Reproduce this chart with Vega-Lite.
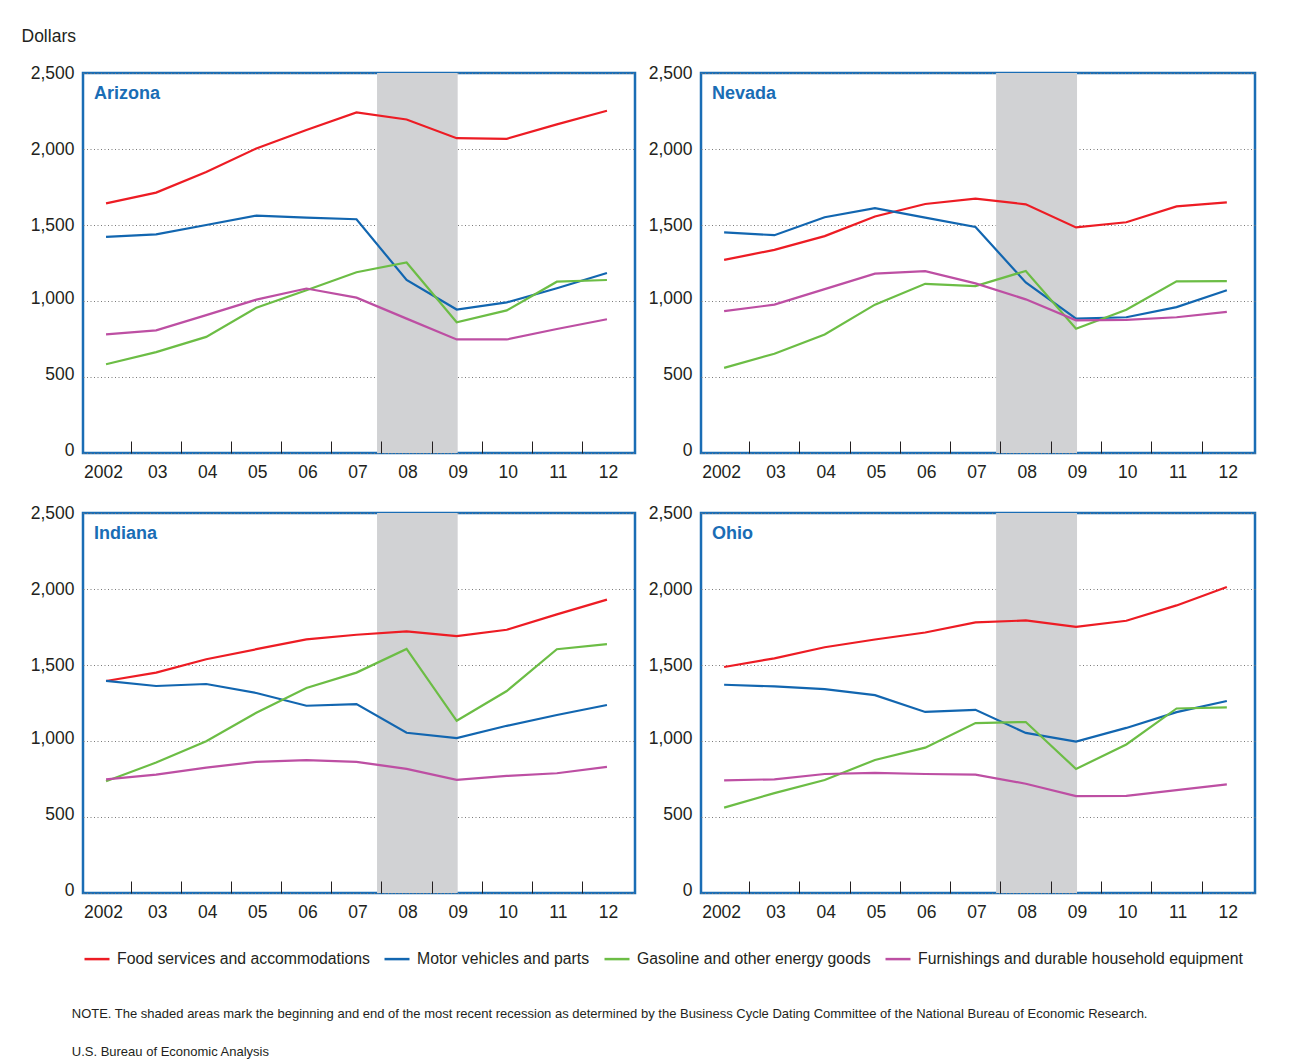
{
  "$schema": "https://vega.github.io/schema/vega-lite/v6.json",
  "padding": {"left": 19, "top": 25, "right": 5, "bottom": 5},
  "background": "white",
  "columns": 2,
  "bounds": "flush",
  "spacing": {"row": 60, "column": 66},
  "title": {
    "text": ["NOTE. The shaded areas mark the beginning and end of the most recent recession as determined by the Business Cycle Dating Committee of the National Bureau of Economic Research.", "U.S. Bureau of Economic Analysis"],
    "orient": "bottom", "anchor": "start", "frame": "bounds", "offset": 41, "dx": 52,
    "fontSize": 13, "fontWeight": "normal", "font": "Liberation Sans", "color": "#231f20", "lineHeight": 38, "baseline": "top"
  },
  "datasets": {
    "recession": [{"start": 2007.41, "end": 2009.02}],
    "spend": [
      {"state":"Arizona","series":"Food services and accommodations","year":2002,"value":1642},
      {"state":"Arizona","series":"Food services and accommodations","year":2003,"value":1713},
      {"state":"Arizona","series":"Food services and accommodations","year":2004,"value":1849},
      {"state":"Arizona","series":"Food services and accommodations","year":2005,"value":2004},
      {"state":"Arizona","series":"Food services and accommodations","year":2006,"value":2125},
      {"state":"Arizona","series":"Food services and accommodations","year":2007,"value":2241},
      {"state":"Arizona","series":"Food services and accommodations","year":2008,"value":2194},
      {"state":"Arizona","series":"Food services and accommodations","year":2009,"value":2071},
      {"state":"Arizona","series":"Food services and accommodations","year":2010,"value":2067},
      {"state":"Arizona","series":"Food services and accommodations","year":2011,"value":2162},
      {"state":"Arizona","series":"Food services and accommodations","year":2012,"value":2252},
      {"state":"Arizona","series":"Motor vehicles and parts","year":2002,"value":1422},
      {"state":"Arizona","series":"Motor vehicles and parts","year":2003,"value":1438},
      {"state":"Arizona","series":"Motor vehicles and parts","year":2004,"value":1500},
      {"state":"Arizona","series":"Motor vehicles and parts","year":2005,"value":1562},
      {"state":"Arizona","series":"Motor vehicles and parts","year":2006,"value":1549},
      {"state":"Arizona","series":"Motor vehicles and parts","year":2007,"value":1538},
      {"state":"Arizona","series":"Motor vehicles and parts","year":2008,"value":1138},
      {"state":"Arizona","series":"Motor vehicles and parts","year":2009,"value":944},
      {"state":"Arizona","series":"Motor vehicles and parts","year":2010,"value":991},
      {"state":"Arizona","series":"Motor vehicles and parts","year":2011,"value":1084},
      {"state":"Arizona","series":"Motor vehicles and parts","year":2012,"value":1184},
      {"state":"Arizona","series":"Gasoline and other energy goods","year":2002,"value":584},
      {"state":"Arizona","series":"Gasoline and other energy goods","year":2003,"value":664},
      {"state":"Arizona","series":"Gasoline and other energy goods","year":2004,"value":764},
      {"state":"Arizona","series":"Gasoline and other energy goods","year":2005,"value":956},
      {"state":"Arizona","series":"Gasoline and other energy goods","year":2006,"value":1071},
      {"state":"Arizona","series":"Gasoline and other energy goods","year":2007,"value":1189},
      {"state":"Arizona","series":"Gasoline and other energy goods","year":2008,"value":1253},
      {"state":"Arizona","series":"Gasoline and other energy goods","year":2009,"value":860},
      {"state":"Arizona","series":"Gasoline and other energy goods","year":2010,"value":938},
      {"state":"Arizona","series":"Gasoline and other energy goods","year":2011,"value":1127},
      {"state":"Arizona","series":"Gasoline and other energy goods","year":2012,"value":1138},
      {"state":"Arizona","series":"Furnishings and durable household equipment","year":2002,"value":780},
      {"state":"Arizona","series":"Furnishings and durable household equipment","year":2003,"value":807},
      {"state":"Arizona","series":"Furnishings and durable household equipment","year":2004,"value":907},
      {"state":"Arizona","series":"Furnishings and durable household equipment","year":2005,"value":1009},
      {"state":"Arizona","series":"Furnishings and durable household equipment","year":2006,"value":1082},
      {"state":"Arizona","series":"Furnishings and durable household equipment","year":2007,"value":1022},
      {"state":"Arizona","series":"Furnishings and durable household equipment","year":2008,"value":884},
      {"state":"Arizona","series":"Furnishings and durable household equipment","year":2009,"value":747},
      {"state":"Arizona","series":"Furnishings and durable household equipment","year":2010,"value":747},
      {"state":"Arizona","series":"Furnishings and durable household equipment","year":2011,"value":816},
      {"state":"Arizona","series":"Furnishings and durable household equipment","year":2012,"value":880},
      {"state":"Nevada","series":"Food services and accommodations","year":2002,"value":1271},
      {"state":"Nevada","series":"Food services and accommodations","year":2003,"value":1336},
      {"state":"Nevada","series":"Food services and accommodations","year":2004,"value":1427},
      {"state":"Nevada","series":"Food services and accommodations","year":2005,"value":1556},
      {"state":"Nevada","series":"Food services and accommodations","year":2006,"value":1638},
      {"state":"Nevada","series":"Food services and accommodations","year":2007,"value":1673},
      {"state":"Nevada","series":"Food services and accommodations","year":2008,"value":1636},
      {"state":"Nevada","series":"Food services and accommodations","year":2009,"value":1484},
      {"state":"Nevada","series":"Food services and accommodations","year":2010,"value":1518},
      {"state":"Nevada","series":"Food services and accommodations","year":2011,"value":1622},
      {"state":"Nevada","series":"Food services and accommodations","year":2012,"value":1649},
      {"state":"Nevada","series":"Motor vehicles and parts","year":2002,"value":1451},
      {"state":"Nevada","series":"Motor vehicles and parts","year":2003,"value":1433},
      {"state":"Nevada","series":"Motor vehicles and parts","year":2004,"value":1551},
      {"state":"Nevada","series":"Motor vehicles and parts","year":2005,"value":1611},
      {"state":"Nevada","series":"Motor vehicles and parts","year":2006,"value":1549},
      {"state":"Nevada","series":"Motor vehicles and parts","year":2007,"value":1487},
      {"state":"Nevada","series":"Motor vehicles and parts","year":2008,"value":1122},
      {"state":"Nevada","series":"Motor vehicles and parts","year":2009,"value":884},
      {"state":"Nevada","series":"Motor vehicles and parts","year":2010,"value":893},
      {"state":"Nevada","series":"Motor vehicles and parts","year":2011,"value":960},
      {"state":"Nevada","series":"Motor vehicles and parts","year":2012,"value":1071},
      {"state":"Nevada","series":"Gasoline and other energy goods","year":2002,"value":560},
      {"state":"Nevada","series":"Gasoline and other energy goods","year":2003,"value":653},
      {"state":"Nevada","series":"Gasoline and other energy goods","year":2004,"value":780},
      {"state":"Nevada","series":"Gasoline and other energy goods","year":2005,"value":976},
      {"state":"Nevada","series":"Gasoline and other energy goods","year":2006,"value":1113},
      {"state":"Nevada","series":"Gasoline and other energy goods","year":2007,"value":1098},
      {"state":"Nevada","series":"Gasoline and other energy goods","year":2008,"value":1198},
      {"state":"Nevada","series":"Gasoline and other energy goods","year":2009,"value":818},
      {"state":"Nevada","series":"Gasoline and other energy goods","year":2010,"value":942},
      {"state":"Nevada","series":"Gasoline and other energy goods","year":2011,"value":1129},
      {"state":"Nevada","series":"Gasoline and other energy goods","year":2012,"value":1131},
      {"state":"Nevada","series":"Furnishings and durable household equipment","year":2002,"value":933},
      {"state":"Nevada","series":"Furnishings and durable household equipment","year":2003,"value":976},
      {"state":"Nevada","series":"Furnishings and durable household equipment","year":2004,"value":1078},
      {"state":"Nevada","series":"Furnishings and durable household equipment","year":2005,"value":1180},
      {"state":"Nevada","series":"Furnishings and durable household equipment","year":2006,"value":1196},
      {"state":"Nevada","series":"Furnishings and durable household equipment","year":2007,"value":1116},
      {"state":"Nevada","series":"Furnishings and durable household equipment","year":2008,"value":1011},
      {"state":"Nevada","series":"Furnishings and durable household equipment","year":2009,"value":873},
      {"state":"Nevada","series":"Furnishings and durable household equipment","year":2010,"value":876},
      {"state":"Nevada","series":"Furnishings and durable household equipment","year":2011,"value":893},
      {"state":"Nevada","series":"Furnishings and durable household equipment","year":2012,"value":929},
      {"state":"Indiana","series":"Food services and accommodations","year":2002,"value":1395},
      {"state":"Indiana","series":"Food services and accommodations","year":2003,"value":1450},
      {"state":"Indiana","series":"Food services and accommodations","year":2004,"value":1538},
      {"state":"Indiana","series":"Food services and accommodations","year":2005,"value":1604},
      {"state":"Indiana","series":"Food services and accommodations","year":2006,"value":1668},
      {"state":"Indiana","series":"Food services and accommodations","year":2007,"value":1699},
      {"state":"Indiana","series":"Food services and accommodations","year":2008,"value":1721},
      {"state":"Indiana","series":"Food services and accommodations","year":2009,"value":1690},
      {"state":"Indiana","series":"Food services and accommodations","year":2010,"value":1732},
      {"state":"Indiana","series":"Food services and accommodations","year":2011,"value":1833},
      {"state":"Indiana","series":"Food services and accommodations","year":2012,"value":1930},
      {"state":"Indiana","series":"Motor vehicles and parts","year":2002,"value":1395},
      {"state":"Indiana","series":"Motor vehicles and parts","year":2003,"value":1362},
      {"state":"Indiana","series":"Motor vehicles and parts","year":2004,"value":1375},
      {"state":"Indiana","series":"Motor vehicles and parts","year":2005,"value":1316},
      {"state":"Indiana","series":"Motor vehicles and parts","year":2006,"value":1232},
      {"state":"Indiana","series":"Motor vehicles and parts","year":2007,"value":1243},
      {"state":"Indiana","series":"Motor vehicles and parts","year":2008,"value":1054},
      {"state":"Indiana","series":"Motor vehicles and parts","year":2009,"value":1019},
      {"state":"Indiana","series":"Motor vehicles and parts","year":2010,"value":1100},
      {"state":"Indiana","series":"Motor vehicles and parts","year":2011,"value":1171},
      {"state":"Indiana","series":"Motor vehicles and parts","year":2012,"value":1237},
      {"state":"Indiana","series":"Gasoline and other energy goods","year":2002,"value":735},
      {"state":"Indiana","series":"Gasoline and other energy goods","year":2003,"value":858},
      {"state":"Indiana","series":"Gasoline and other energy goods","year":2004,"value":999},
      {"state":"Indiana","series":"Gasoline and other energy goods","year":2005,"value":1186},
      {"state":"Indiana","series":"Gasoline and other energy goods","year":2006,"value":1349},
      {"state":"Indiana","series":"Gasoline and other energy goods","year":2007,"value":1450},
      {"state":"Indiana","series":"Gasoline and other energy goods","year":2008,"value":1606},
      {"state":"Indiana","series":"Gasoline and other energy goods","year":2009,"value":1133},
      {"state":"Indiana","series":"Gasoline and other energy goods","year":2010,"value":1329},
      {"state":"Indiana","series":"Gasoline and other energy goods","year":2011,"value":1604},
      {"state":"Indiana","series":"Gasoline and other energy goods","year":2012,"value":1637},
      {"state":"Indiana","series":"Furnishings and durable household equipment","year":2002,"value":748},
      {"state":"Indiana","series":"Furnishings and durable household equipment","year":2003,"value":779},
      {"state":"Indiana","series":"Furnishings and durable household equipment","year":2004,"value":825},
      {"state":"Indiana","series":"Furnishings and durable household equipment","year":2005,"value":863},
      {"state":"Indiana","series":"Furnishings and durable household equipment","year":2006,"value":874},
      {"state":"Indiana","series":"Furnishings and durable household equipment","year":2007,"value":863},
      {"state":"Indiana","series":"Furnishings and durable household equipment","year":2008,"value":817},
      {"state":"Indiana","series":"Furnishings and durable household equipment","year":2009,"value":744},
      {"state":"Indiana","series":"Furnishings and durable household equipment","year":2010,"value":770},
      {"state":"Indiana","series":"Furnishings and durable household equipment","year":2011,"value":788},
      {"state":"Indiana","series":"Furnishings and durable household equipment","year":2012,"value":830},
      {"state":"Ohio","series":"Food services and accommodations","year":2002,"value":1487},
      {"state":"Ohio","series":"Food services and accommodations","year":2003,"value":1544},
      {"state":"Ohio","series":"Food services and accommodations","year":2004,"value":1617},
      {"state":"Ohio","series":"Food services and accommodations","year":2005,"value":1668},
      {"state":"Ohio","series":"Food services and accommodations","year":2006,"value":1714},
      {"state":"Ohio","series":"Food services and accommodations","year":2007,"value":1780},
      {"state":"Ohio","series":"Food services and accommodations","year":2008,"value":1793},
      {"state":"Ohio","series":"Food services and accommodations","year":2009,"value":1751},
      {"state":"Ohio","series":"Food services and accommodations","year":2010,"value":1791},
      {"state":"Ohio","series":"Food services and accommodations","year":2011,"value":1892},
      {"state":"Ohio","series":"Food services and accommodations","year":2012,"value":2013},
      {"state":"Ohio","series":"Motor vehicles and parts","year":2002,"value":1370},
      {"state":"Ohio","series":"Motor vehicles and parts","year":2003,"value":1359},
      {"state":"Ohio","series":"Motor vehicles and parts","year":2004,"value":1341},
      {"state":"Ohio","series":"Motor vehicles and parts","year":2005,"value":1302},
      {"state":"Ohio","series":"Motor vehicles and parts","year":2006,"value":1191},
      {"state":"Ohio","series":"Motor vehicles and parts","year":2007,"value":1205},
      {"state":"Ohio","series":"Motor vehicles and parts","year":2008,"value":1053},
      {"state":"Ohio","series":"Motor vehicles and parts","year":2009,"value":996},
      {"state":"Ohio","series":"Motor vehicles and parts","year":2010,"value":1086},
      {"state":"Ohio","series":"Motor vehicles and parts","year":2011,"value":1190},
      {"state":"Ohio","series":"Motor vehicles and parts","year":2012,"value":1263},
      {"state":"Ohio","series":"Gasoline and other energy goods","year":2002,"value":562},
      {"state":"Ohio","series":"Gasoline and other energy goods","year":2003,"value":657},
      {"state":"Ohio","series":"Gasoline and other energy goods","year":2004,"value":743},
      {"state":"Ohio","series":"Gasoline and other energy goods","year":2005,"value":875},
      {"state":"Ohio","series":"Gasoline and other energy goods","year":2006,"value":956},
      {"state":"Ohio","series":"Gasoline and other energy goods","year":2007,"value":1118},
      {"state":"Ohio","series":"Gasoline and other energy goods","year":2008,"value":1125},
      {"state":"Ohio","series":"Gasoline and other energy goods","year":2009,"value":816},
      {"state":"Ohio","series":"Gasoline and other energy goods","year":2010,"value":977},
      {"state":"Ohio","series":"Gasoline and other energy goods","year":2011,"value":1214},
      {"state":"Ohio","series":"Gasoline and other energy goods","year":2012,"value":1221},
      {"state":"Ohio","series":"Furnishings and durable household equipment","year":2002,"value":741},
      {"state":"Ohio","series":"Furnishings and durable household equipment","year":2003,"value":748},
      {"state":"Ohio","series":"Furnishings and durable household equipment","year":2004,"value":783},
      {"state":"Ohio","series":"Furnishings and durable household equipment","year":2005,"value":790},
      {"state":"Ohio","series":"Furnishings and durable household equipment","year":2006,"value":783},
      {"state":"Ohio","series":"Furnishings and durable household equipment","year":2007,"value":779},
      {"state":"Ohio","series":"Furnishings and durable household equipment","year":2008,"value":719},
      {"state":"Ohio","series":"Furnishings and durable household equipment","year":2009,"value":637},
      {"state":"Ohio","series":"Furnishings and durable household equipment","year":2010,"value":639},
      {"state":"Ohio","series":"Furnishings and durable household equipment","year":2011,"value":677},
      {"state":"Ohio","series":"Furnishings and durable household equipment","year":2012,"value":715}
    ]
  },
  "concat": [
    {
      "width": 552, "height": 380,
      "title": {"text": "Arizona", "offset": -75.6},
      "layer": [
        {"data": {"name": "recession"}, "mark": {"type": "rect", "color": "#d1d2d4"},
         "encoding": {"x": {"field": "start", "type": "quantitative", "scale": {"domain": [2001.54, 2012.56], "nice": false, "zero": false},
           "axis": {"title": null, "values": [2002,2003,2004,2005,2006,2007,2008,2009,2010,2011,2012], "tickOffset": 25, "labelOffset": {"condition": {"test": "datum.value === 2002", "value": -28}, "value": -24}, "tickSize": -12, "tickWidth": 1, "tickColor": {"condition": {"test": "datum.value === 2012", "value": "transparent"}, "value": "#231f20"}, "labelPadding": 22, "labelExpr": "datum.value === 2002 ? '2002' : slice(toString(datum.value), 2)", "domain": false, "grid": false, "zindex": 1, "labelFlush": false, "labelOverlap": false}},
           "x2": {"field": "end"}}},
        {"data": {"name": "spend"}, "transform": [{"filter": "datum.state === 'Arizona'"}],
         "mark": {"type": "line", "strokeWidth": 2.2},
         "encoding": {"x": {"field": "year", "type": "quantitative", "scale": {"domain": [2001.54, 2012.56], "nice": false, "zero": false}},
           "y": {"field": "value", "type": "quantitative", "scale": {"domain": [0, 2500], "nice": false},
             "axis": {"title": "Dollars", "titleAngle": 0, "titleAlign": "left", "titleBaseline": "alphabetic", "titleX": -62, "titleY": -32, "titleFontSize": 17.5, "titleFontWeight": "normal", "titleColor": "#231f20", "titleFont": "Liberation Sans", "values": [0,500,1000,1500,2000,2500], "format": ",.0f", "ticks": false, "domain": false, "grid": true, "labelPadding": 9, "labelOffset": {"condition": {"test": "datum.value >= 1500", "value": 0}, "value": -3}, "labelFlush": false}},
           "color": {"field": "series", "type": "nominal", "scale": {"domain": ["Food services and accommodations", "Motor vehicles and parts", "Gasoline and other energy goods", "Furnishings and durable household equipment"], "range": ["#ed1c24", "#1266b0", "#6cbd45", "#bd4fa3"]}, "legend": {"title": null}}}}
      ]
    },
    {
      "width": 554, "height": 380,
      "title": {"text": "Nevada", "offset": -39.4},
      "layer": [
        {"data": {"name": "recession"}, "mark": {"type": "rect", "color": "#d1d2d4"},
         "encoding": {"x": {"field": "start", "type": "quantitative", "scale": {"domain": [2001.54, 2012.56], "nice": false, "zero": false},
           "axis": {"title": null, "values": [2002,2003,2004,2005,2006,2007,2008,2009,2010,2011,2012], "tickOffset": 25, "labelOffset": {"condition": {"test": "datum.value === 2002", "value": -28}, "value": -24}, "tickSize": -12, "tickWidth": 1, "tickColor": {"condition": {"test": "datum.value === 2012", "value": "transparent"}, "value": "#231f20"}, "labelPadding": 22, "labelExpr": "datum.value === 2002 ? '2002' : slice(toString(datum.value), 2)", "domain": false, "grid": false, "zindex": 1, "labelFlush": false, "labelOverlap": false}},
           "x2": {"field": "end"}}},
        {"data": {"name": "spend"}, "transform": [{"filter": "datum.state === 'Nevada'"}],
         "mark": {"type": "line", "strokeWidth": 2.2},
         "encoding": {"x": {"field": "year", "type": "quantitative", "scale": {"domain": [2001.54, 2012.56], "nice": false, "zero": false}},
           "y": {"field": "value", "type": "quantitative", "scale": {"domain": [0, 2500], "nice": false},
             "axis": {"title": null, "values": [0,500,1000,1500,2000,2500], "format": ",.0f", "ticks": false, "domain": false, "grid": true, "labelPadding": 9, "labelOffset": {"condition": {"test": "datum.value >= 1500", "value": 0}, "value": -3}, "labelFlush": false}},
           "color": {"field": "series", "type": "nominal", "scale": {"domain": ["Food services and accommodations", "Motor vehicles and parts", "Gasoline and other energy goods", "Furnishings and durable household equipment"], "range": ["#ed1c24", "#1266b0", "#6cbd45", "#bd4fa3"]}, "legend": {"title": null}}}}
      ]
    },
    {
      "width": 552, "height": 380,
      "title": {"text": "Indiana", "offset": -39.4},
      "layer": [
        {"data": {"name": "recession"}, "mark": {"type": "rect", "color": "#d1d2d4"},
         "encoding": {"x": {"field": "start", "type": "quantitative", "scale": {"domain": [2001.54, 2012.56], "nice": false, "zero": false},
           "axis": {"title": null, "values": [2002,2003,2004,2005,2006,2007,2008,2009,2010,2011,2012], "tickOffset": 25, "labelOffset": {"condition": {"test": "datum.value === 2002", "value": -28}, "value": -24}, "tickSize": -12, "tickWidth": 1, "tickColor": {"condition": {"test": "datum.value === 2012", "value": "transparent"}, "value": "#231f20"}, "labelPadding": 22, "labelExpr": "datum.value === 2002 ? '2002' : slice(toString(datum.value), 2)", "domain": false, "grid": false, "zindex": 1, "labelFlush": false, "labelOverlap": false}},
           "x2": {"field": "end"}}},
        {"data": {"name": "spend"}, "transform": [{"filter": "datum.state === 'Indiana'"}],
         "mark": {"type": "line", "strokeWidth": 2.2},
         "encoding": {"x": {"field": "year", "type": "quantitative", "scale": {"domain": [2001.54, 2012.56], "nice": false, "zero": false}},
           "y": {"field": "value", "type": "quantitative", "scale": {"domain": [0, 2500], "nice": false},
             "axis": {"title": null, "values": [0,500,1000,1500,2000,2500], "format": ",.0f", "ticks": false, "domain": false, "grid": true, "labelPadding": 9, "labelOffset": {"condition": {"test": "datum.value >= 1500", "value": 0}, "value": -3}, "labelFlush": false}},
           "color": {"field": "series", "type": "nominal", "scale": {"domain": ["Food services and accommodations", "Motor vehicles and parts", "Gasoline and other energy goods", "Furnishings and durable household equipment"], "range": ["#ed1c24", "#1266b0", "#6cbd45", "#bd4fa3"]}, "legend": {"title": null}}}}
      ]
    },
    {
      "width": 554, "height": 380,
      "title": {"text": "Ohio", "offset": -39.4},
      "layer": [
        {"data": {"name": "recession"}, "mark": {"type": "rect", "color": "#d1d2d4"},
         "encoding": {"x": {"field": "start", "type": "quantitative", "scale": {"domain": [2001.54, 2012.56], "nice": false, "zero": false},
           "axis": {"title": null, "values": [2002,2003,2004,2005,2006,2007,2008,2009,2010,2011,2012], "tickOffset": 25, "labelOffset": {"condition": {"test": "datum.value === 2002", "value": -28}, "value": -24}, "tickSize": -12, "tickWidth": 1, "tickColor": {"condition": {"test": "datum.value === 2012", "value": "transparent"}, "value": "#231f20"}, "labelPadding": 22, "labelExpr": "datum.value === 2002 ? '2002' : slice(toString(datum.value), 2)", "domain": false, "grid": false, "zindex": 1, "labelFlush": false, "labelOverlap": false}},
           "x2": {"field": "end"}}},
        {"data": {"name": "spend"}, "transform": [{"filter": "datum.state === 'Ohio'"}],
         "mark": {"type": "line", "strokeWidth": 2.2},
         "encoding": {"x": {"field": "year", "type": "quantitative", "scale": {"domain": [2001.54, 2012.56], "nice": false, "zero": false}},
           "y": {"field": "value", "type": "quantitative", "scale": {"domain": [0, 2500], "nice": false},
             "axis": {"title": null, "values": [0,500,1000,1500,2000,2500], "format": ",.0f", "ticks": false, "domain": false, "grid": true, "labelPadding": 9, "labelOffset": {"condition": {"test": "datum.value >= 1500", "value": 0}, "value": -3}, "labelFlush": false}},
           "color": {"field": "series", "type": "nominal", "scale": {"domain": ["Food services and accommodations", "Motor vehicles and parts", "Gasoline and other energy goods", "Furnishings and durable household equipment"], "range": ["#ed1c24", "#1266b0", "#6cbd45", "#bd4fa3"]}, "legend": {"title": null}}}}
      ]
    }
  ],
  "config": {
    "font": "Liberation Sans",
    "view": {"stroke": "#1a6db5", "strokeWidth": 2.5},
    "axis": {"labelFont": "Liberation Sans", "labelColor": "#231f20", "labelFontSize": 17.5, "gridColor": "#7a7a7a", "gridDash": [1, 2.5], "gridWidth": 1},
    "title": {"anchor": "start", "frame": "group", "dx": 11, "fontSize": 18, "font": "Liberation Sans", "fontWeight": "bold", "color": "#1a6db5", "baseline": "alphabetic"},
    "legend": {"orient": "bottom", "direction": "horizontal", "labelFont": "Liberation Sans", "labelFontSize": 15.8, "labelColor": "#231f20", "symbolType": "stroke", "symbolSize": 625, "symbolStrokeWidth": 2.5, "columnPadding": 9, "labelOffset": 6, "offset": 23, "labelLimit": 0}
  }
}
